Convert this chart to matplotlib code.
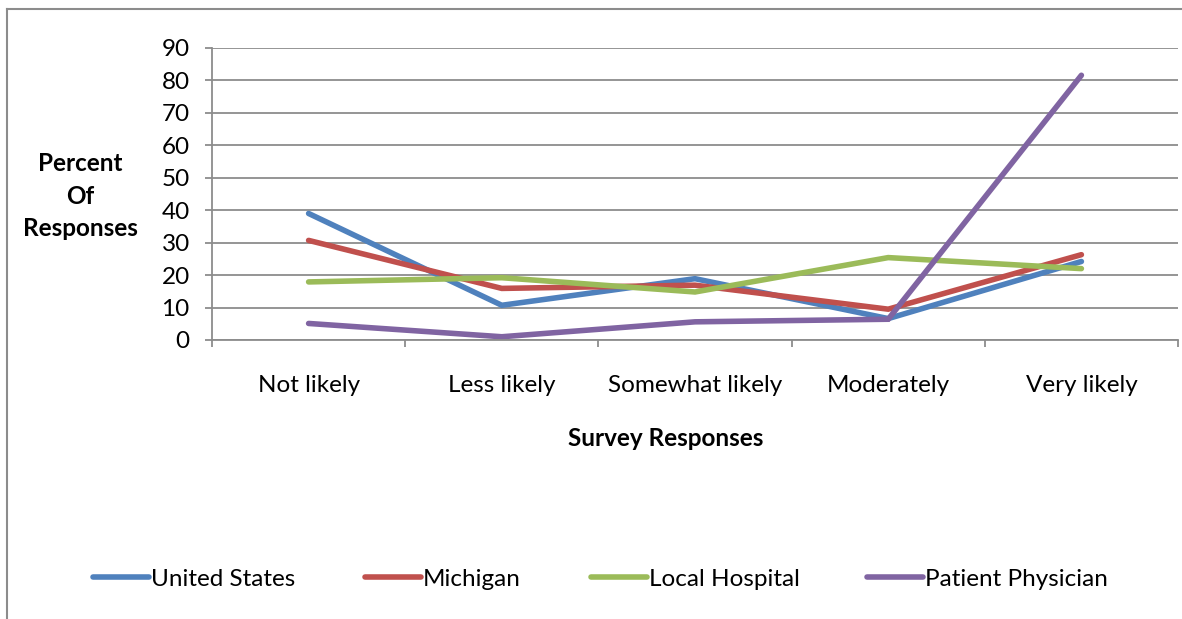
import numpy as np
import matplotlib
matplotlib.use("Agg")
import matplotlib.pyplot as plt
from matplotlib.lines import Line2D

# data
categories = ["Not likely", "Less likely", "Somewhat likely", "Moderately", "Very likely"]
united_states = [39.0, 10.7, 18.9, 6.6, 24.2]
michigan = [30.7, 15.9, 16.9, 9.5, 26.3]
local_hospital = [17.9, 19.2, 14.8, 25.4, 22.0]
patient_physician = [5.1, 1.0, 5.6, 6.4, 81.6]

series_names = ["United States", "Michigan", "Local Hospital", "Patient Physician"]
colors = ["#4F81BD", "#C0504D", "#9BBB59", "#8064A2"]

plt.rcParams['font.family'] = ['Lato', 'DejaVu Sans']
FS = 17.5
W, H = 1182, 619
fig = plt.figure(figsize=(W / 100, H / 100), dpi=100)
ax = fig.add_axes([212 / W, 1 - 340 / H, (1178 - 212) / W, (340 - 48) / H])

x = np.arange(len(categories))
for vals, c in zip([united_states, michigan, local_hospital, patient_physician], colors):
    ax.plot(x, vals, color=c, lw=4, solid_capstyle='round', solid_joinstyle='miter')

ax.set_xlim(-0.5, len(categories) - 0.5)
ax.set_ylim(0, 90)
ax.set_yticks(range(0, 91, 10))
ax.yaxis.grid(True, color='#8c8c8c', lw=1.3)
ax.set_axisbelow(True)
ax.set_xticks(x)
ax.set_xticklabels(categories)
ax.set_xticks(np.arange(-0.5, len(categories)), minor=True)
ax.tick_params(axis='x', which='major', length=0, pad=25, labelsize=FS)
ax.tick_params(axis='x', which='minor', length=5, width=1.3, color='#8c8c8c', direction='out')
ax.tick_params(axis='y', length=5, width=1.3, color='#8c8c8c', pad=11, labelsize=FS)
for s in ['top', 'right']:
    ax.spines[s].set_visible(False)
for s in ['left', 'bottom']:
    ax.spines[s].set_color('#8c8c8c')
    ax.spines[s].set_linewidth(1.3)

fig.text(666 / W, 1 - 438 / H, "Survey Responses", ha='center', va='center',
         fontsize=FS, fontweight='bold')
fig.text(80 / W, 1 - 196 / H, "Percent\nOf\nResponses", ha='center', va='center',
         fontsize=FS, fontweight='bold', linespacing=1.5)

# legend entries placed like the Excel one
leg_x = [93, 365, 591, 867]
for name, c, lx in zip(series_names, colors, leg_x):
    h = Line2D([], [], color=c, lw=4, solid_capstyle='round')
    fig.legend([h], [name], loc='center left', bbox_to_anchor=(lx / W, 1 - 579 / H),
               frameon=False, borderpad=0, borderaxespad=0, handlelength=2.3,
               handletextpad=0.08, fontsize=FS)

# chart border (top and left edges visible)
fig.add_artist(Line2D([7 / W, 1], [1 - 8.5 / H, 1 - 8.5 / H], color='#8c8c8c', lw=1.5))
fig.add_artist(Line2D([7 / W, 7 / W], [0, 1 - 8.5 / H], color='#8c8c8c', lw=1.5))

fig.savefig("out.png", dpi=100)
